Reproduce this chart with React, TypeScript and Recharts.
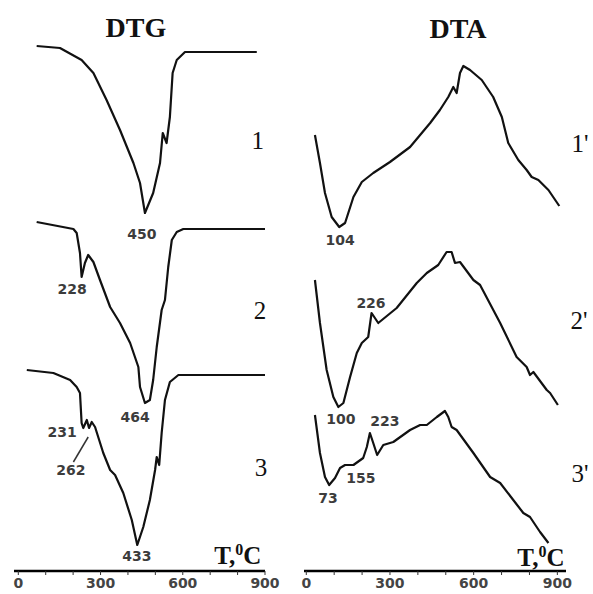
import React from "react";
import {
  LineChart,
  Line,
  XAxis,
  YAxis,
  ReferenceDot,
  ReferenceLine,
} from "recharts";

// temperature (°C) and signal height
const dtg1T = [67, 152, 231, 274, 322, 371, 420, 444, 462, 492, 517, 527, 541, 553, 563, 578, 608, 870];
const dtg1V = [524, 522, 510, 497, 470, 440, 407, 387, 357, 377, 407, 437, 427, 453, 497, 510, 518, 518];

const dtg2T = [67, 201, 213, 225, 231, 243, 255, 274, 298, 335, 371, 408, 438, 444, 462, 480, 492, 505, 523, 535, 547, 560, 578, 602, 900];
const dtg2V = [348, 341, 337, 317, 293, 307, 315, 308, 290, 263, 247, 227, 203, 183, 167, 170, 190, 223, 260, 270, 303, 330, 338, 341, 341];

const dtg3T = [31, 128, 189, 213, 225, 231, 237, 250, 258, 268, 280, 310, 335, 353, 383, 414, 434, 456, 480, 499, 505, 514, 523, 535, 553, 584, 900];
const dtg3V = [200, 197, 190, 183, 177, 147, 142, 150, 142, 148, 143, 117, 100, 95, 77, 50, 25, 43, 70, 100, 113, 105, 137, 170, 188, 195, 195];

const dta1T = [31, 49, 67, 91, 118, 139, 169, 199, 240, 300, 372, 444, 479, 509, 527, 539, 551, 563, 587, 629, 670, 701, 724, 760, 790, 808, 832, 868, 907];
const dta1V = [434, 406, 376, 352, 342, 346, 372, 387, 396, 407, 422, 446, 459, 472, 482, 476, 496, 503, 499, 489, 472, 452, 426, 409, 399, 392, 389, 379, 363];

const dta2T = [31, 49, 73, 97, 115, 133, 157, 181, 199, 222, 234, 258, 324, 396, 432, 473, 503, 521, 533, 551, 599, 623, 695, 754, 790, 802, 814, 862, 874, 902];
const dta2V = [289, 246, 199, 172, 162, 166, 192, 216, 226, 232, 256, 246, 261, 286, 296, 304, 317, 317, 306, 307, 289, 284, 246, 212, 202, 194, 197, 179, 176, 164];

const dta3T = [31, 49, 67, 82, 103, 121, 139, 169, 204, 217, 228, 240, 254, 276, 312, 372, 408, 432, 468, 497, 509, 521, 539, 599, 659, 695, 742, 778, 802, 838, 868];
const dta3V = [154, 116, 92, 84, 91, 101, 104, 104, 111, 122, 136, 126, 114, 124, 127, 139, 144, 144, 152, 158, 152, 142, 139, 116, 92, 86, 69, 56, 52, 37, 26];

const xTicks = [0, 100, 200, 300, 400, 500, 600, 700, 800, 900];

const zip = (t: number[], v: number[]) => t.map((x, i) => ({ t: x, v: v[i] }));

// peak labels: [text, T, v]
const dtgPeaks: [string, number, number][] = [
  ["450", 451, 336],
  ["228", 196, 281],
  ["464", 426, 153],
  ["231", 160, 138],
  ["262", 192, 100],
  ["433", 433, 14],
];
const dtaPeaks: [string, number, number][] = [
  ["104", 121, 329],
  ["226", 232, 266],
  ["100", 124, 150],
  ["223", 282, 148],
  ["155", 196, 91],
  ["73", 78, 71],
];
const dtgNums: [string, number, number][] = [
  ["1", 874, 430],
  ["2", 882, 260],
  ["3", 885, 103],
];
const dtaNums: [string, number, number][] = [
  ["1'", 981, 426],
  ["2'", 978, 249],
  ["3'", 981, 96],
];

const peakText = (label: string) => (p: any) => (
  <text
    x={p.cx}
    y={p.cy}
    dy="0.36em"
    textAnchor="middle"
    fontFamily="DejaVu Sans"
    fontWeight="bold"
    fontSize={14}
    fill="#3c3c3c"
  >
    {label}
  </text>
);

const serifText = (label: string, size: number, bold = false) => (p: any) => (
  <text
    x={p.cx}
    y={p.cy}
    dy="0.34em"
    textAnchor="middle"
    fontFamily="Liberation Serif"
    fontWeight={bold ? "bold" : "normal"}
    fontSize={size}
    fill="#111"
  >
    {label}
  </text>
);

const unitText = (p: any) => (
  <text
    x={p.cx}
    y={p.cy}
    dy="0.36em"
    textAnchor="middle"
    fontFamily="Liberation Serif"
    fontWeight="bold"
    fontSize={25}
    fill="#111"
  >
    T,
    <tspan fontSize={16} dy={-9}>
      0
    </tspan>
    <tspan dy={9}>C</tspan>
  </text>
);

const tickFmt = (t: number) => (t % 300 === 0 ? String(t) : "");

function Panel({
  width,
  left,
  right,
  top,
  xDomain,
  yDomain,
  curves,
  peaks,
  nums,
  title,
  unitPos,
  leader,
}: {
  width: number;
  left: number;
  right: number;
  top: number;
  xDomain: [number, number];
  yDomain: [number, number];
  curves: { t: number; v: number }[][];
  peaks: [string, number, number][];
  nums: [string, number, number][];
  title: [string, number, number];
  unitPos: [number, number];
  leader?: [number, number, number, number];
}) {
  return (
    <LineChart width={width} height={594} margin={{ top, right, bottom: 0, left }}>
      <XAxis
        type="number"
        dataKey="t"
        domain={xDomain}
        ticks={xTicks}
        tickFormatter={tickFmt}
        interval={0}
        height={23}
        tickSize={4}
        tickMargin={3}
        axisLine={{ stroke: "#000", strokeWidth: 2.5 }}
        tickLine={{ stroke: "#333", strokeWidth: 1 }}
        tick={{ fontSize: 14, fontWeight: "bold", fill: "#444", fontFamily: "DejaVu Sans" }}
        allowDataOverflow
      />
      <YAxis
        type="number"
        domain={yDomain}
        width={0}
        tick={false}
        tickLine={false}
        axisLine={{ stroke: "#000", strokeWidth: 2.5 }}
        allowDataOverflow
      />
      {curves.map((d, i) => (
        <Line
          key={i}
          data={d}
          dataKey="v"
          type="linear"
          stroke="#111"
          strokeWidth={2.2}
          strokeLinejoin="round"
          dot={false}
          activeDot={false}
          isAnimationActive={false}
        />
      ))}
      {leader && (
        <ReferenceLine
          segment={[
            { x: leader[0], y: leader[1] },
            { x: leader[2], y: leader[3] },
          ]}
          stroke="#333"
          strokeWidth={1.5}
          ifOverflow="visible"
        />
      )}
      {peaks.map(([s, x, y]) => (
        <ReferenceDot key={"p" + s} x={x} y={y} r={0} ifOverflow="visible" shape={peakText(s)} />
      ))}
      {nums.map(([s, x, y]) => (
        <ReferenceDot key={"n" + s} x={x} y={y} r={0} ifOverflow="visible" shape={serifText(s, 25)} />
      ))}
      <ReferenceDot x={title[1]} y={title[2]} r={0} ifOverflow="visible" shape={serifText(title[0], 28, true)} />
      <ReferenceDot x={unitPos[0]} y={unitPos[1]} r={0} ifOverflow="visible" shape={unitText} />
    </LineChart>
  );
}

export default function App() {
  return (
    <div style={{ position: "absolute", left: 0, top: 0, width: 593, height: 594, background: "#fff" }}>
      <div style={{ position: "absolute", left: 0, top: 0 }}>
        <Panel
          width={290}
          left={14}
          right={25}
          top={35}
          xDomain={[-15.7, 900]}
          yDomain={[-1, 535]}
          curves={[zip(dtg1T, dtg1V), zip(dtg2T, dtg2V), zip(dtg3T, dtg3V)]}
          peaks={dtgPeaks}
          nums={dtgNums}
          title={["DTG", 429, 543]}
          unitPos={[801, 15]}
          leader={[255, 133, 201, 108]}
        />
      </div>
      <div style={{ position: "absolute", left: 290, top: 0 }}>
        <Panel
          width={303}
          left={14}
          right={27}
          top={33}
          xDomain={[-8.2, 931]}
          yDomain={[-2, 536]}
          curves={[zip(dta1T, dta1V), zip(dta2T, dta2V), zip(dta3T, dta3V)]}
          peaks={dtaPeaks}
          nums={dtaNums}
          title={["DTA", 544, 541]}
          unitPos={[841, 12]}
        />
      </div>
    </div>
  );
}
